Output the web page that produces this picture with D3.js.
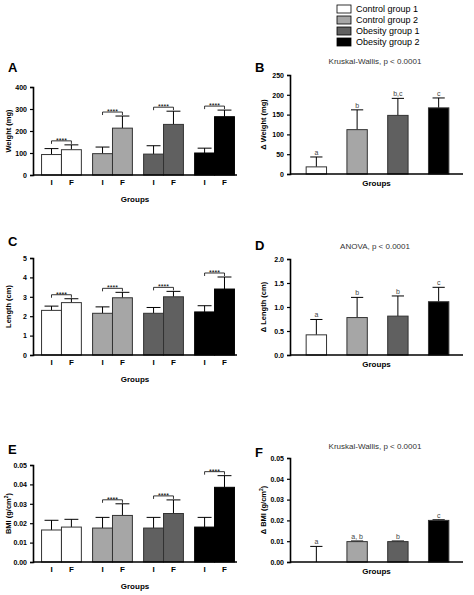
<!DOCTYPE html>
<html><head><meta charset="utf-8">
<script src="https://cdn.jsdelivr.net/npm/d3@7"></script>
<style>body{margin:0;background:#fff}text{font-family:Arial,"Liberation Sans",sans-serif}</style>
</head><body><svg id="c" width="474" height="595"></svg>
<script>
const groups = ['Control group 1', 'Control group 2', 'Obesity group 1', 'Obesity group 2']
const colors = ['#ffffff', '#a6a6a6', '#606060', '#000000']

// paired panels: initial (I) and final (F)
const weightI = [93, 97, 95, 100], weightIErr = [27, 30, 38, 22]
const weightF = [115, 213, 230, 265], weightFErr = [22, 55, 60, 30]
const lengthI = [2.3, 2.15, 2.15, 2.22], lengthIErr = [0.22, 0.33, 0.3, 0.32]
const lengthF = [2.7, 2.95, 3.0, 3.4], lengthFErr = [0.2, 0.28, 0.28, 0.62]
const bmiI = [0.0165, 0.0175, 0.0175, 0.018], bmiIErr = [0.005, 0.0055, 0.0055, 0.005]
const bmiF = [0.018, 0.024, 0.025, 0.0385], bmiFErr = [0.004, 0.006, 0.007, 0.006]
const bmiSig = [false, true, true, true]

// delta panels
const dWeight = [18, 112, 148, 167], dWeightErr = [25, 50, 43, 25]
const dWeightLetters = ['a', 'b', 'b,c', 'c']
const dLength = [0.42, 0.78, 0.81, 1.11], dLengthErr = [0.32, 0.42, 0.42, 0.3]
const dLengthLetters = ['a', 'b', 'b', 'c']
const dBmi = [0, 0.0098, 0.0098, 0.02], dBmiErr = [0.0075, 0.0003, 0.0003, 0.0003]
const dBmiLetters = ['a', 'a, b', 'b', 'c']

const svg = d3.select('#c')

/* legend */
groups.forEach((g, i) => {
    svg.append('rect').attr('x', 337).attr('y', 5 + i * 11).attr('width', 14).attr('height', 8)
        .attr('fill', colors[i]).attr('stroke', '#000').attr('stroke-width', 0.8)
    svg.append('text').attr('x', 356).attr('y', 12 + i * 11).attr('font-size', 9).text(g)
})

function axisY(g, y, ticks, fmt, x0) {
    const ax = g.append('g').attr('transform', `translate(${x0},0)`)
        .call(d3.axisLeft(y).tickValues(ticks).tickFormat(fmt).tickSize(3))
    ax.select('.domain').attr('stroke-width', 1.6)
    ax.selectAll('text').attr('font-size', 7).attr('font-weight', 'bold')
    ax.selectAll('.tick line').attr('stroke-width', 1.2)
}

function errBar(g, x, yTop, yErr, w) {
    g.append('line').attr('x1', x).attr('x2', x).attr('y1', yTop).attr('y2', yErr).attr('stroke', '#000').attr('stroke-width', 1)
    g.append('line').attr('x1', x - w).attr('x2', x + w).attr('y1', yErr).attr('y2', yErr).attr('stroke', '#000').attr('stroke-width', 1)
}

/* panel with I / F bars */
function pairPanel(o) {
    const g = svg.append('g')
    const y = d3.scaleLinear().domain([0, o.max]).range([o.y0, o.y1])
    const x = d3.scaleBand().domain(d3.range(4)).range([o.x0 + 6, o.x1]).paddingInner(0.22).paddingOuter(0.05)
    const bw = x.bandwidth() / 2
    g.append('text').attr('x', o.lx).attr('y', o.ly).attr('font-size', 13).attr('font-weight', 'bold').text(o.label)
    for (let i = 0; i < 4; i++) {
        const sets = [[o.I[i], o.Ie[i]], [o.F[i], o.Fe[i]]]
        sets.forEach((s, k) => {
            const bx = x(i) + k * bw
            errBar(g, bx + bw / 2, y(s[0]), y(s[0] + s[1]), bw * 0.35)
            g.append('rect').attr('x', bx).attr('y', y(s[0])).attr('width', bw).attr('height', y(0) - y(s[0]))
                .attr('fill', colors[i]).attr('stroke', i == 3 ? '#000' : '#333').attr('stroke-width', 1)
            g.append('text').attr('x', bx + bw / 2).attr('y', o.y0 + 10).attr('text-anchor', 'middle')
                .attr('font-size', 8).attr('font-weight', 'bold').attr('fill', '#000').text(k ? 'F' : 'I')
        })
        if (!o.sig || o.sig[i]) {
            const top = y(Math.max(o.I[i] + o.Ie[i], o.F[i] + o.Fe[i])) - 4
            const a = x(i) + bw / 2, b = x(i) + bw * 1.5
            g.append('path').attr('d', `M${a},${top + 3}V${top}H${b}V${top + 3}`).attr('fill', 'none').attr('stroke', '#000').attr('stroke-width', 0.8)
            g.append('text').attr('x', (a + b) / 2).attr('y', top + 2).attr('text-anchor', 'middle').attr('font-size', 7).text('****')
        }
    }
    g.append('line').attr('x1', o.x0).attr('x2', o.x1).attr('y1', o.y0).attr('y2', o.y0).attr('stroke', '#000').attr('stroke-width', 1.6)
    axisY(g, y, o.ticks, o.fmt, o.x0)
    g.append('text').attr('x', (o.x0 + o.x1) / 2).attr('y', o.y0 + 27).attr('text-anchor', 'middle').attr('font-size', 8).attr('font-weight', 'bold').text('Groups')
    g.append('text').attr('transform', `translate(${o.x0 - 22},${(o.y0 + o.y1) / 2}) rotate(-90)`).attr('text-anchor', 'middle')
        .attr('font-size', 7.5).attr('font-weight', 'bold').html(o.ylab)
}

/* panel with delta bars */
function deltaPanel(o) {
    const g = svg.append('g')
    const y = d3.scaleLinear().domain([0, o.max]).range([o.y0, o.y1])
    const x = d3.scaleBand().domain(d3.range(4)).range([o.x0 + 8, o.x1 - 6]).paddingInner(0.5).paddingOuter(0.2)
    g.append('text').attr('x', o.lx).attr('y', o.ly).attr('font-size', 13).attr('font-weight', 'bold').text(o.label)
    g.append('text').attr('x', 375).attr('y', o.ty).attr('text-anchor', 'middle').attr('font-size', 8).attr('fill', '#333').text(o.title)
    o.v.forEach((v, i) => {
        const cx = x(i) + x.bandwidth() / 2
        errBar(g, cx, y(v), y(v + o.e[i]), x.bandwidth() * 0.3)
        if (v > 0) g.append('rect').attr('x', x(i)).attr('y', y(v)).attr('width', x.bandwidth()).attr('height', y(0) - y(v))
            .attr('fill', colors[i]).attr('stroke', '#333').attr('stroke-width', 1)
        g.append('text').attr('x', cx).attr('y', y(v + o.e[i]) - 2).attr('text-anchor', 'middle').attr('font-size', 7).attr('fill', '#444').text(o.letters[i])
    })
    g.append('line').attr('x1', o.x0).attr('x2', o.x1).attr('y1', o.y0).attr('y2', o.y0).attr('stroke', '#000').attr('stroke-width', 1.6)
    axisY(g, y, o.ticks, o.fmt, o.x0)
    g.append('text').attr('x', (o.x0 + o.x1) / 2).attr('y', o.y0 + 12).attr('text-anchor', 'middle').attr('font-size', 8).attr('font-weight', 'bold').text('Groups')
    g.append('text').attr('transform', `translate(${o.x0 - 24},${(o.y0 + o.y1) / 2}) rotate(-90)`).attr('text-anchor', 'middle')
        .attr('font-size', 7.5).attr('font-weight', 'bold').html(o.ylab)
}

pairPanel({label: 'A', lx: 8, ly: 72, x0: 33, x1: 237, y0: 175, y1: 87, max: 400, ticks: [0, 100, 200, 300, 400], fmt: d3.format('d'),
    I: weightI, Ie: weightIErr, F: weightF, Fe: weightFErr, ylab: 'Weight (mg)'})
deltaPanel({label: 'B', lx: 255, ly: 72, ty: 64, title: 'Kruskal-Wallis, p < 0.0001', x0: 290, x1: 463, y0: 174, y1: 75, max: 250,
    ticks: [0, 50, 100, 150, 200, 250], fmt: d3.format('d'), v: dWeight, e: dWeightErr, letters: dWeightLetters, ylab: 'Δ Weight (mg)'})
pairPanel({label: 'C', lx: 8, ly: 246, x0: 33, x1: 237, y0: 355, y1: 258, max: 5, ticks: [0, 1, 2, 3, 4, 5], fmt: d3.format('d'),
    I: lengthI, Ie: lengthIErr, F: lengthF, Fe: lengthFErr, ylab: 'Length (cm)'})
deltaPanel({label: 'D', lx: 255, ly: 250, ty: 249, title: 'ANOVA, p < 0.0001', x0: 290, x1: 463, y0: 355, y1: 259, max: 2,
    ticks: [0, 0.5, 1, 1.5, 2], fmt: d3.format('.1f'), v: dLength, e: dLengthErr, letters: dLengthLetters, ylab: 'Δ Length (cm)'})
pairPanel({label: 'E', lx: 8, ly: 454, x0: 33, x1: 237, y0: 562, y1: 465, max: 0.05, ticks: [0, 0.01, 0.02, 0.03, 0.04, 0.05], fmt: d3.format('.2f'),
    I: bmiI, Ie: bmiIErr, F: bmiF, Fe: bmiFErr, sig: bmiSig, ylab: 'BMI (g/cm<tspan baseline-shift="super" font-size="5">2</tspan>)'})
deltaPanel({label: 'F', lx: 255, ly: 457, ty: 449, title: 'Kruskal-Wallis, p < 0.0001', x0: 290, x1: 463, y0: 562, y1: 458, max: 0.05,
    ticks: [0, 0.01, 0.02, 0.03, 0.04, 0.05], fmt: d3.format('.2f'), v: dBmi, e: dBmiErr, letters: dBmiLetters,
    ylab: 'Δ BMI (g/cm<tspan baseline-shift="super" font-size="5">2</tspan>)'})
</script></body></html>
